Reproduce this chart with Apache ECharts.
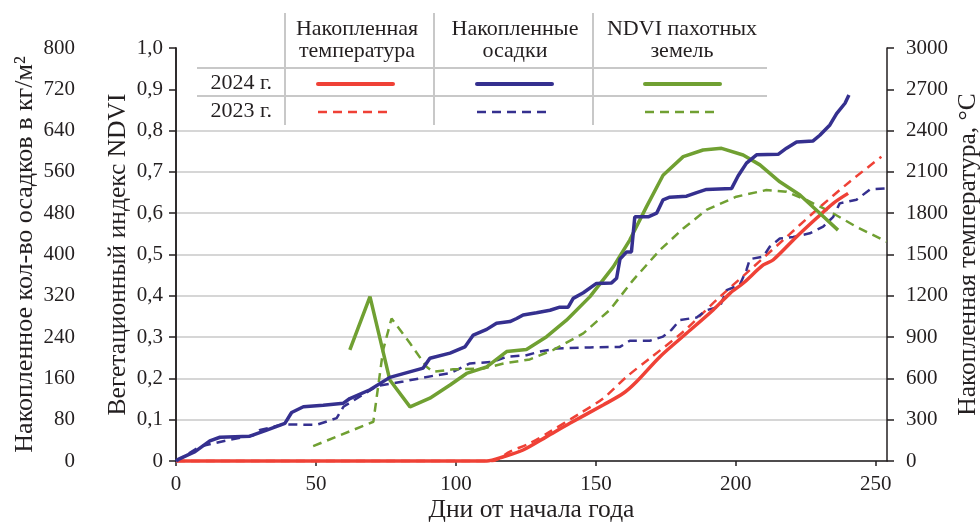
<!DOCTYPE html>
<html>
<head>
<meta charset="utf-8">
<script src="https://cdn.jsdelivr.net/npm/echarts@6/dist/echarts.min.js"></script>
<style>html,body{margin:0;padding:0;background:#fff}#c{width:980px;height:522px}</style>
</head>
<body>
<div id="c"></div>
<script>
// ---- data (day of year, value) ----
const temp2024 = [[0,0],[111,0],[117,31],[124,80],[132.4,177],[140.7,274],[152.6,407],[159.8,492],[164.5,576],[172.9,758],[182.4,928],[191.9,1097],[197.9,1218],[202.6,1291],[209.8,1424],[213.3,1460],[221.7,1629],[228.8,1763],[234.8,1872],[240.1,1944]];
const temp2023 = [[0,0],[113,0],[119.3,68],[126.4,129],[133.6,213],[144.3,346],[152.6,455],[161,612],[169.3,746],[181.2,939],[193.1,1170],[205,1387],[216.9,1605],[228.8,1823],[240.7,2029],[252,2210]];
const precip2024 = [[0,0],[0.8,3],[6.8,18],[12.1,39],[15.7,46],[26.4,48],[32.4,60],[38.9,73],[41.3,94],[45.5,105],[52.6,108],[59.8,112],[62.1,121],[69.3,138],[76.4,162],[88.3,180],[90.7,199],[97.9,209],[103.2,221],[106.2,244],[111,255],[114.5,267],[119.3,270],[121.7,276],[124,283],[128.8,287],[133.6,292],[137.1,298],[140.1,298],[141.9,315],[145.5,326],[150.2,344],[155.6,345],[157.4,354],[158.6,391],[161,405],[162.7,405],[163.9,473],[168.7,473],[171.7,480],[174,506],[176.4,511],[182.4,513],[186,520],[189.5,526],[198.5,528],[200.8,552],[203.8,577],[207.4,593],[215.1,594],[218.1,606],[221.7,618],[227.6,620],[230,631],[233.6,651],[236,673],[239,693],[240.4,709]];
const precip2023 = [[0,0],[2.6,8],[8.6,28],[13.3,34],[19.3,41],[27.6,50],[30,60],[38.3,71],[50.2,70],[57.4,83],[59.8,105],[71.7,145],[81.2,154],[91.9,165],[97.9,170],[105,189],[113.3,192],[118.1,202],[125.2,205],[130,212],[136,218],[147.9,220],[158.6,221],[162.1,233],[169.3,233],[174,241],[177,254],[180,273],[186,278],[189.5,292],[194.3,299],[196.7,331],[201.4,341],[203.8,370],[205,391],[209.8,396],[212.1,415],[215.7,431],[220.5,434],[226.4,441],[231.2,454],[234.8,473],[237.1,499],[243.1,506],[247.9,526],[253.8,528]];
const ndvi2024 = [[62.1,0.269],[69.3,0.398],[76.4,0.196],[83.6,0.131],[90.7,0.152],[97.9,0.184],[103.8,0.212],[111,0.228],[118.1,0.265],[125.2,0.270],[132.4,0.301],[139.5,0.341],[147.9,0.398],[156.2,0.470],[162.1,0.535],[168.1,0.616],[174,0.692],[181.2,0.737],[188.3,0.753],[194.9,0.757],[202.6,0.741],[208.6,0.717],[215.7,0.676],[222.9,0.644],[230,0.600],[236.5,0.559]];
const ndvi2023 = [[49,0.036],[70.5,0.095],[74,0.269],[77,0.345],[83.6,0.285],[89.5,0.228],[91.9,0.216],[99,0.222],[109.8,0.224],[117,0.236],[126.4,0.246],[134.8,0.269],[145.5,0.309],[155,0.366],[163.3,0.438],[172.9,0.511],[181.2,0.563],[189.5,0.608],[200.2,0.640],[210.9,0.656],[218.1,0.652],[225.2,0.632],[233.6,0.604],[243.1,0.567],[253.8,0.531]];

// ---- ticks ----
const xTicks = [0, 50, 100, 150, 200, 250];
const precipTicks = [0, 80, 160, 240, 320, 400, 480, 560, 640, 720, 800];
const ndviTicks = [0, 0.1, 0.2, 0.3, 0.4, 0.5, 0.6, 0.7, 0.8, 0.9, 1.0];
const tempTicks = [0, 300, 600, 900, 1200, 1500, 1800, 2100, 2400, 2700, 3000];

// ---- legend table texts ----
const headers = [['Накопленная', 'температура'], ['Накопленные', 'осадки'], ['NDVI пахотных', 'земель']];
const rowLabels = ['2024 г.', '2023 г.'];

const RED = '#EF4136', BLUE = '#35308F', GREEN = '#70A032';
const FONT = "'Liberation Serif', 'Times New Roman', serif";
const TXT = '#231F20';
const GRIDC = '#C8C8C8';
const DASH = [9, 6];

const chart = echarts.init(document.getElementById('c'));

const axisCommon = {
  type: 'value',
  axisLine: { show: true, lineStyle: { color: TXT, width: 1.5 } },
  axisTick: { show: true, length: 7, lineStyle: { color: TXT, width: 1.5 } },
  axisLabel: { color: TXT, fontFamily: FONT, fontSize: 21 },
  nameTextStyle: { color: TXT, fontFamily: FONT, fontSize: 25.5 },
  nameLocation: 'middle',
  nameRotate: 90,
  nameMoveOverlap: false,
  splitLine: { show: false }
};

// grid line colours: visible for 0..0.8, hidden for 0.9 and 1.0
const splitColors = ndviTicks.map(v => v > 0.85 ? 'rgba(0,0,0,0)' : GRIDC);

// legend table graphic
const g = [];
const colX = [285, 434, 593];
const colCenters = [357, 515, 682];
const rowY = [84, 112];
colX.forEach(x => g.push({ type: 'line', shape: { x1: x, y1: 13, x2: x, y2: 125 }, style: { stroke: GRIDC, lineWidth: 2 } }));
[68, 96].forEach(y => g.push({ type: 'line', shape: { x1: 197, y1: y, x2: 767, y2: y }, style: { stroke: GRIDC, lineWidth: 2 } }));
headers.forEach((h, i) => {
  h.forEach((t, j) => g.push({ type: 'text', x: colCenters[i], y: 29 + j * 22, style: { text: t, fill: TXT, font: "22px " + FONT, align: 'center', verticalAlign: 'middle' } }));
});
rowLabels.forEach((t, j) => g.push({ type: 'text', x: 272, y: rowY[j] - 1, style: { text: t, fill: TXT, font: "22px " + FONT, align: 'right', verticalAlign: 'middle' } }));
const legendColors = [RED, BLUE, GREEN];
const legendStarts = [318, 477, 645];
legendColors.forEach((c, i) => {
  g.push({ type: 'line', shape: { x1: legendStarts[i], y1: rowY[0], x2: legendStarts[i] + 75, y2: rowY[0] }, style: { stroke: c, lineWidth: 4, lineCap: 'round' } });
  g.push({ type: 'line', shape: { x1: legendStarts[i], y1: rowY[1], x2: legendStarts[i] + 75, y2: rowY[1] }, style: { stroke: c, lineWidth: 2.5, lineDash: DASH } });
});

const option = {
  animation: false,
  backgroundColor: '#fff',
  grid: { left: 176, right: 93, top: 48, bottom: 61, containLabel: false, outerBoundsMode: 'none' },
  xAxis: {
    type: 'value', min: 0, max: 254, interval: 50,
    name: 'Дни от начала года', nameLocation: 'middle', nameGap: 36, nameMoveOverlap: false,
    nameTextStyle: { color: TXT, fontFamily: FONT, fontSize: 25.5 },
    axisLine: { show: true, onZero: false, lineStyle: { color: TXT, width: 1.5 } },
    axisTick: { show: true, length: 5, customValues: xTicks, lineStyle: { color: TXT, width: 1.5 } },
    axisLabel: { color: TXT, fontFamily: FONT, fontSize: 21, margin: 13, customValues: xTicks },
    splitLine: { show: false }
  },
  yAxis: [
    Object.assign({}, axisCommon, {
      position: 'left', offset: 86, min: 0, max: 800, interval: 80,
      name: 'Накопленное кол-во осадков в кг/м²', nameGap: 52,
      nameTextStyle: Object.assign({}, axisCommon.nameTextStyle, { fontSize: 26 }),
      axisLabel: Object.assign({}, axisCommon.axisLabel, { margin: 15, customValues: precipTicks })
    }),
    Object.assign({}, axisCommon, {
      position: 'left', offset: 0, min: 0, max: 1, interval: 0.1,
      name: 'Вегетационный индекс NDVI', nameGap: 45,
      axisLabel: Object.assign({}, axisCommon.axisLabel, { margin: 13, customValues: ndviTicks,
        formatter: v => v === 0 ? '0' : v.toFixed(1).replace('.', ',') }),
      splitLine: { show: true, lineStyle: { color: splitColors, width: 1.5 } }
    }),
    Object.assign({}, axisCommon, {
      position: 'right', offset: 0, min: 0, max: 3000, interval: 300,
      name: 'Накопленная температура, °С', nameGap: 68,
      axisLabel: Object.assign({}, axisCommon.axisLabel, { margin: 19, customValues: tempTicks,
        formatter: v => String(v) })
    })
  ],
  series: [
    { type: 'line', yAxisIndex: 2, data: temp2023, showSymbol: false, smooth: 0.3, clip: false, lineStyle: { color: RED, width: 2.5, type: DASH }, z: 3 },
    { type: 'line', yAxisIndex: 0, data: precip2023, showSymbol: false, clip: false, lineStyle: { color: BLUE, width: 2.5, type: DASH }, z: 3 },
    { type: 'line', yAxisIndex: 1, data: ndvi2023, showSymbol: false, lineStyle: { color: GREEN, width: 2.5, type: DASH }, z: 3 },
    { type: 'line', yAxisIndex: 2, data: temp2024, showSymbol: false, smooth: 0.3, clip: false, lineStyle: { color: RED, width: 3.5 }, z: 4 },
    { type: 'line', yAxisIndex: 1, data: ndvi2024, showSymbol: false, lineStyle: { color: GREEN, width: 3.5 }, z: 4 },
    { type: 'line', yAxisIndex: 0, data: precip2024, showSymbol: false, clip: false, lineStyle: { color: BLUE, width: 3.5 }, z: 5 }
  ],
  graphic: g
};
chart.setOption(option);
</script>
</body>
</html>
